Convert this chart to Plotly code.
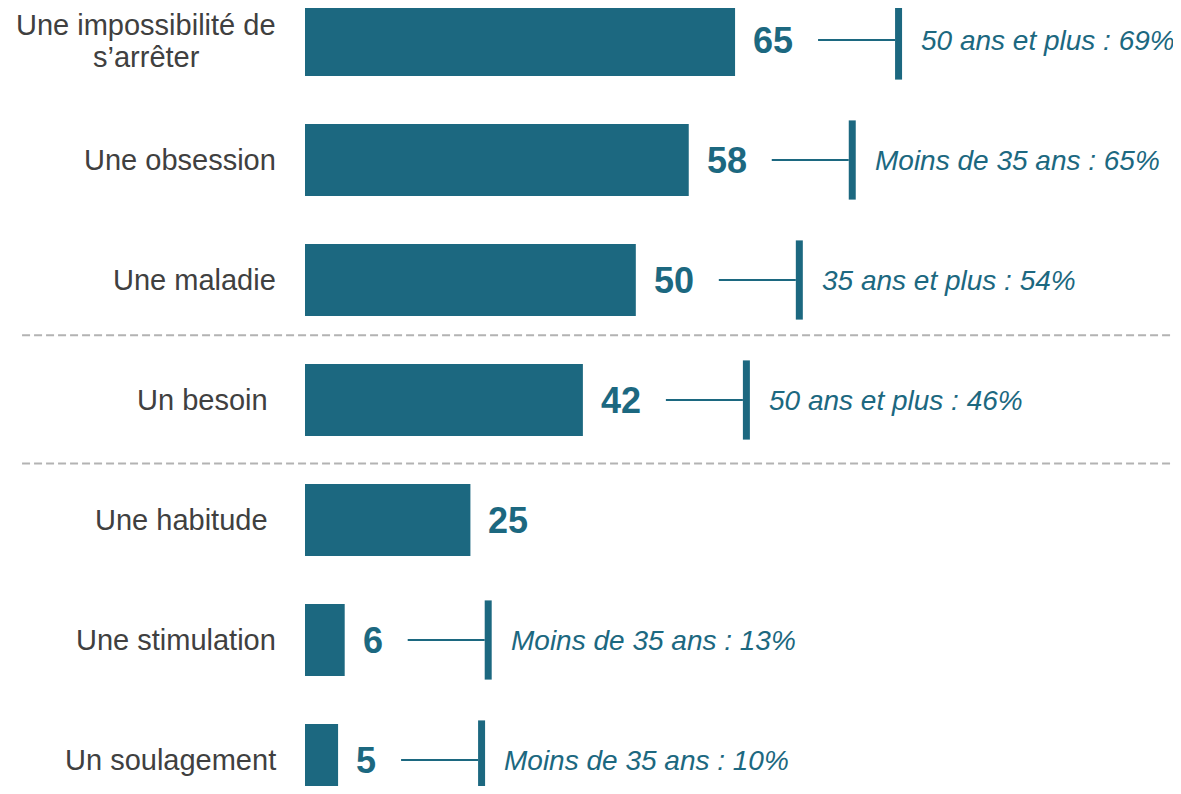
import plotly.graph_objects as go

categories = [
    "Une impossibilité de<br>s’arrêter",
    "Une obsession",
    "Une maladie",
    "Un besoin\u00a0",
    "Une habitude\u00a0",
    "Une stimulation",
    "Un soulagement",
]
values = [65, 58, 50, 42, 25, 6, 5]
subgroup_notes = [
    "50 ans et plus : 69%",
    "Moins de 35 ans : 65%",
    "35 ans et plus : 54%",
    "50 ans et plus : 46%",
    None,
    "Moins de 35 ans : 13%",
    "Moins de 35 ans : 10%",
]
separators = [2.46, 3.53]

TEAL = "#1C6880"
FONT = "Liberation Sans, Arial, sans-serif"
LABEL_FONT = dict(family=FONT, size=29, color="#404040")
LABEL_GAP = -27          # px from the plot's left edge to the label's right edge
BLOCK_CENTER = -159      # px centre of a two-line label block
LINE_PITCH = 32          # px between lines of a two-line label

positions = list(range(len(categories)))

fig = go.Figure()
fig.add_trace(go.Bar(
    x=values, y=positions, orientation="h",
    marker=dict(color=TEAL, line=dict(width=0)),
    width=0.6, hoverinfo="skip",
))

annotations = []
shapes = []
for i, (cat, v, note) in enumerate(zip(categories, values, subgroup_notes)):
    lines = cat.split("<br>")
    if len(lines) == 1:
        annotations.append(dict(
            x=0, xref="paper", y=i, yref="y", text=cat, showarrow=False,
            xanchor="right", yanchor="middle", xshift=LABEL_GAP,
            font=LABEL_FONT,
        ))
    else:
        n = len(lines)
        for k, ln in enumerate(lines):
            ys = ((n - 1) / 2 - k) * LINE_PITCH - 1
            if k == 0:
                annotations.append(dict(
                    x=0, xref="paper", y=i, yref="y", text=ln, showarrow=False,
                    xanchor="right", yanchor="middle", xshift=LABEL_GAP,
                    yshift=ys, font=LABEL_FONT,
                ))
            else:
                annotations.append(dict(
                    x=0, xref="paper", y=i, yref="y", text=ln, showarrow=False,
                    xanchor="center", yanchor="middle", xshift=BLOCK_CENTER,
                    yshift=ys, font=LABEL_FONT,
                ))
    annotations.append(dict(
        x=v, xref="x", y=i, yref="y", text=f"<b>{v}</b>", showarrow=False,
        xanchor="left", yanchor="middle", xshift=16,
        font=dict(family=FONT, size=36, color=TEAL),
    ))
    if note:
        w = 20 * len(str(v))
        lx0 = 18 + w + 25
        lx1 = lx0 + 77
        shapes.append(dict(
            type="line", xref="x", yref="y", xsizemode="pixel", xanchor=v,
            x0=lx0, x1=lx1, y0=i, y1=i,
            line=dict(color=TEAL, width=2),
        ))
        shapes.append(dict(
            type="rect", xref="x", yref="y", xsizemode="pixel", xanchor=v,
            x0=lx1, x1=lx1 + 7, y0=i - 0.33, y1=i + 0.33,
            fillcolor=TEAL, line=dict(width=0),
        ))
        annotations.append(dict(
            x=v, xref="x", y=i, yref="y", text=note, showarrow=False,
            xanchor="left", yanchor="middle", xshift=lx1 + 7 + 17,
            font=dict(family=FONT, size=28, color=TEAL, style="italic"),
        ))

for s in separators:
    shapes.append(dict(
        type="line", xref="paper", yref="y", x0=-0.323, x1=1.009, y0=s, y1=s,
        line=dict(color="#B3B3B3", width=2, dash="8px,4px"),
    ))

fig.update_layout(
    width=1181, height=778,
    margin=dict(l=297, r=8, t=0, b=0),
    paper_bgcolor="white", plot_bgcolor="white",
    showlegend=False,
    xaxis=dict(range=[0, 132.4], visible=False, fixedrange=True),
    yaxis=dict(range=[6.2167, -0.2667], visible=False, fixedrange=True),
    annotations=annotations,
    shapes=shapes,
    bargap=0.4,
)

fig.write_html("out.html", config={"displayModeBar": False})
